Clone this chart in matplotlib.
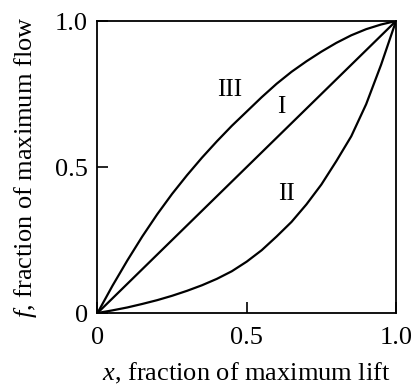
import numpy as np
import matplotlib
matplotlib.use("Agg")
import matplotlib.pyplot as plt

plt.rcParams.update({
    'font.family': 'Liberation Serif',
    'font.size': 19,
    'mathtext.fontset': 'custom',
    'mathtext.it': 'Liberation Serif:italic',
    'mathtext.rm': 'Liberation Serif',
})

# ---------- DATA ----------
lift = [0.0, 0.05, 0.1, 0.15, 0.2, 0.25, 0.3, 0.35, 0.4, 0.45, 0.5,
        0.55, 0.6, 0.65, 0.7, 0.75, 0.8, 0.85, 0.9, 0.95, 1.0]

flow_linear = [0.0, 0.05, 0.1, 0.15, 0.2, 0.25, 0.3, 0.35, 0.4, 0.45, 0.5,
               0.55, 0.6, 0.65, 0.7, 0.75, 0.8, 0.85, 0.9, 0.95, 1.0]      # I
flow_equal_pct = [0.0, 0.009, 0.019, 0.031, 0.044, 0.059, 0.076, 0.095, 0.117, 0.143, 0.176,
                  0.215, 0.262, 0.312, 0.372, 0.44, 0.52, 0.605, 0.715, 0.85, 1.0]  # II
flow_quick = [0.0, 0.093, 0.18, 0.262, 0.338, 0.408, 0.472, 0.532, 0.588, 0.641, 0.69,
              0.739, 0.785, 0.826, 0.862, 0.895, 0.925, 0.951, 0.972, 0.988, 1.0]  # III

curve_labels = ["I", "II", "III"]
label_pos = [(0.616, 0.707), (0.634, 0.408), (0.444, 0.764)]

tick_vals = [0, 0.5, 1.0]
tick_text = ["0", "0.5", "1.0"]
# ---------------------------------------------------

fig = plt.figure(figsize=(4.14, 3.90), dpi=100)
ax = fig.add_axes([97.5 / 414, 1 - 313 / 390, 298.5 / 414, 292 / 390])

for fl in (flow_linear, flow_equal_pct, flow_quick):
    ax.plot(lift, fl, color="black", lw=1.6, solid_capstyle="round")

for lab, (lx, ly) in zip(curve_labels, label_pos):
    ax.text(lx, ly, lab, ha="center", va="center", fontsize=18)

ax.set_xlim(0, 1)
ax.set_ylim(0, 1)
ax.set_xticks(tick_vals)
ax.set_xticklabels(tick_text)
ax.set_yticks(tick_vals)
ax.set_yticklabels(tick_text)
ax.tick_params(direction="in", length=8, width=1.2)
ax.tick_params(axis="x", pad=10)
ax.tick_params(axis="y", pad=7)
for s in ax.spines.values():
    s.set_linewidth(1.3)

ax.set_xlabel(r"$\mathit{x}$, fraction of maximum lift", labelpad=9)
ax.set_ylabel(r"$\mathit{f}$, fraction of maximum flow", labelpad=11)

fig.savefig("out.png", dpi=100)
